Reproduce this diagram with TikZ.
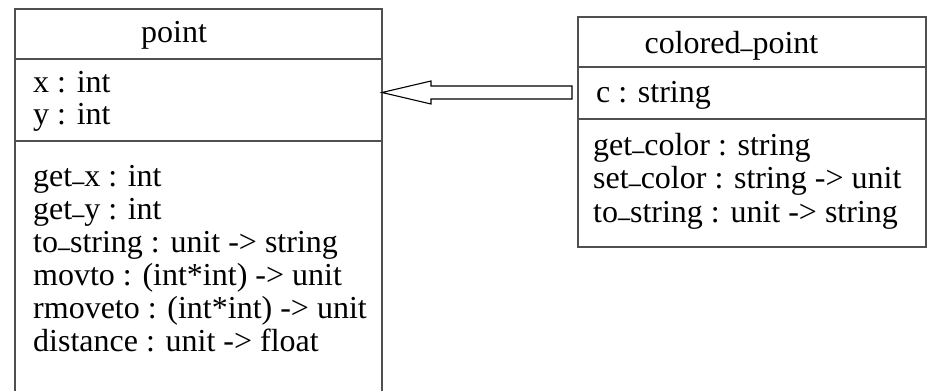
\documentclass[tikz,border=0pt]{standalone}
\usepackage{fontspec}
\usepackage{graphicx}
\setmainfont{Liberation Serif}
\usetikzlibrary{calc}
\definecolor{boxgray}{RGB}{80,80,80}
\newcommand\usc{\raisebox{0.18em}{\scalebox{0.75}[1]{\_}}}
\begin{document}
\begin{tikzpicture}[x=1pt,y=-1pt,
  box/.style={draw=boxgray, line width=1.6pt, inner sep=0pt, outer sep=0pt, anchor=north west},
  sepline/.style={draw=boxgray, line width=1.6pt},
  txt/.style={font=\fontsize{32}{34}\selectfont, inner sep=0pt, anchor=base west},
  ttl/.style={font=\fontsize{32}{34}\selectfont, inner sep=0pt, anchor=base},
  blockarrow/.style={draw=black, line width=1.1pt, fill=white, line join=miter}
]
\useasboundingbox (0,0) rectangle (930,391);
\clip (0,0) rectangle (930,391);

% class point
\node[box, minimum width=367pt, minimum height=400pt] (pt) at (15,9) {};
\draw[sepline] (pt.west |- 0,59) -- (pt.east |- 0,59);
\draw[sepline] (pt.west |- 0,141) -- (pt.east |- 0,141);
\node[ttl] (ptname) at (174,42) {point};
\node[txt] (pa1) at (33,92) {x : int};
\node[txt] (pa2) at (33,124.5) {y : int};
\node[txt] (pm1) at (33,186) {get\usc x : int};
\node[txt] (pm2) at (33,219) {get\usc y : int};
\node[txt] (pm3) at (33,252) {to\usc string : unit -> string};
\node[txt] (pm4) at (33,285) {movto : (int*int) -> unit};
\node[txt] (pm5) at (33,318) {rmoveto : (int*int) -> unit};
\node[txt] (pm6) at (33,351) {distance : unit -> float};

% class colored_point
\node[box, minimum width=348pt, minimum height=230pt] (cp) at (578,17) {};
\draw[sepline] (cp.west |- 0,67) -- (cp.east |- 0,67);
\draw[sepline] (cp.west |- 0,119) -- (cp.east |- 0,119);
\node[ttl] (cpname) at (731.5,53.5) {colored\usc point};
\node[txt] (ca1) at (596,102.5) {c : string};
\node[txt] (cm1) at (593,155.5) {get\usc color : string};
\node[txt] (cm2) at (593,188.7) {set\usc color : string -> unit};
\node[txt] (cm3) at (593,222) {to\usc string : unit -> string};

% inheritance arrow
\coordinate (tip) at (pt.east |- 0,92.5);
\coordinate (tail) at ($(cp.west |- 0,92.5)+(-6,0)$);
\draw[blockarrow] (tip) -- ($(tip)+(49,-11.5)$) -- ($(tip)+(49,-6.5)$)
  -- ($(tail)+(0,-6.5)$) -- ($(tail)+(0,6.5)$) -- ($(tip)+(49,6.5)$)
  -- ($(tip)+(49,11.5)$) -- cycle;
\end{tikzpicture}
\end{document}
